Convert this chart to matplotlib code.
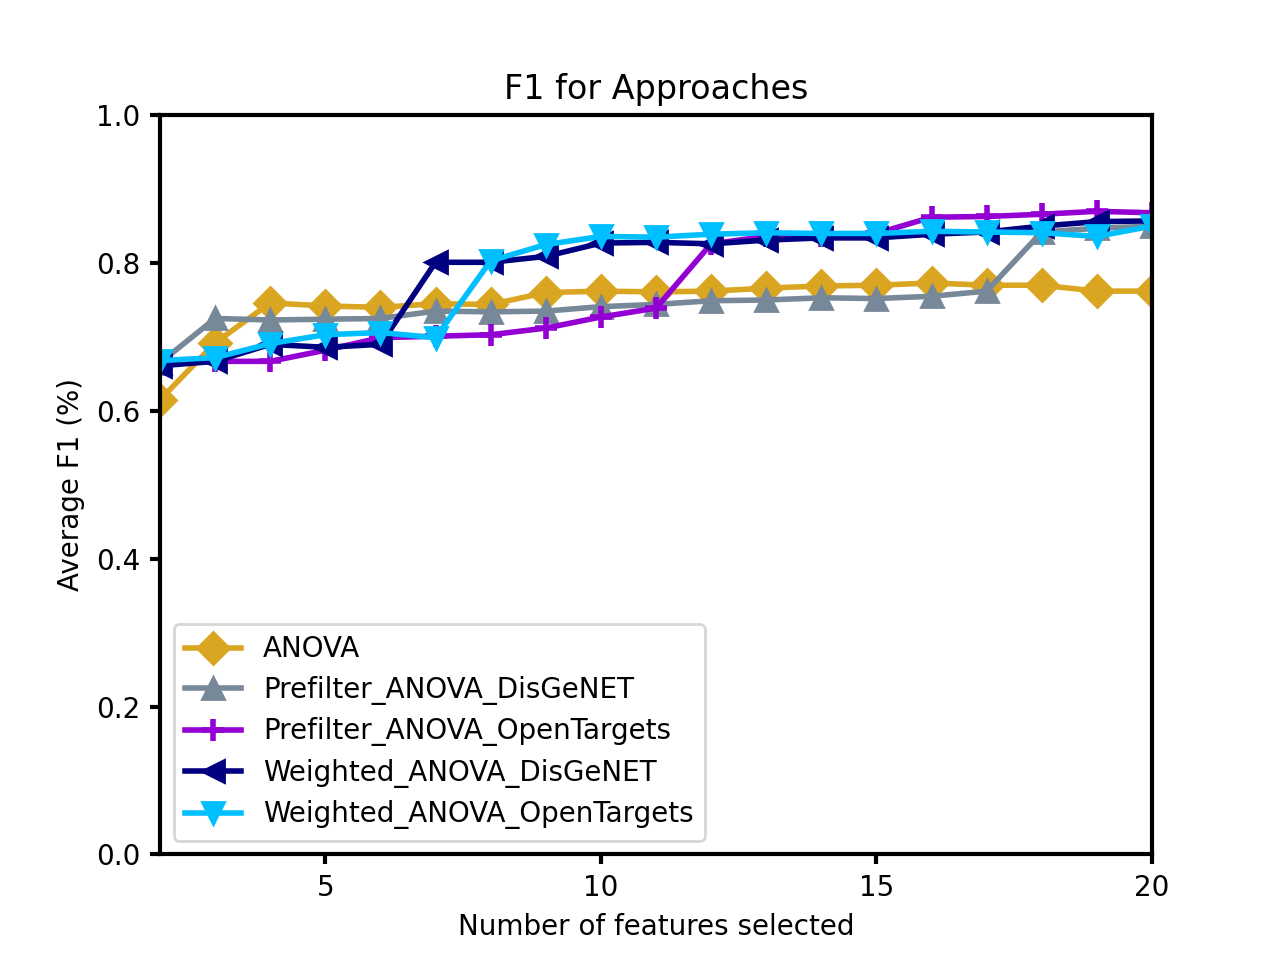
import matplotlib
matplotlib.use("Agg")
import matplotlib.pyplot as plt

# number of features selected
n_features = list(range(2, 21))

anova = [0.615, 0.692, 0.746, 0.742, 0.740, 0.745, 0.744, 0.760, 0.762, 0.761,
         0.762, 0.766, 0.769, 0.770, 0.773, 0.770, 0.770, 0.762, 0.762]
pre_disgenet = [0.665, 0.725, 0.723, 0.724, 0.725, 0.735, 0.734, 0.735, 0.741, 0.744,
                0.749, 0.750, 0.753, 0.752, 0.755, 0.762, 0.842, 0.847, 0.850]
pre_opentargets = [0.665, 0.667, 0.667, 0.682, 0.699, 0.701, 0.703, 0.712, 0.727, 0.739,
                   0.826, 0.836, 0.837, 0.840, 0.862, 0.863, 0.866, 0.870, 0.868]
w_disgenet = [0.661, 0.667, 0.690, 0.686, 0.690, 0.801, 0.801, 0.809, 0.827, 0.828,
              0.826, 0.831, 0.834, 0.834, 0.839, 0.842, 0.850, 0.856, 0.857]
w_opentargets = [0.668, 0.672, 0.691, 0.703, 0.706, 0.699, 0.803, 0.825, 0.836, 0.835,
                 0.839, 0.841, 0.840, 0.840, 0.843, 0.842, 0.841, 0.836, 0.850]

plt.rcParams['axes.linewidth'] = 1.5
plt.rcParams['xtick.major.width'] = 1.5
plt.rcParams['ytick.major.width'] = 1.5

fig, ax = plt.subplots(figsize=(6.4, 4.8), dpi=200)
ax.plot(n_features, anova, marker='D', color='goldenrod', lw=2, ms=8, label='ANOVA')
ax.plot(n_features, pre_disgenet, marker='^', color='lightslategray', lw=2, ms=8,
        label='Prefilter_ANOVA_DisGeNET')
ax.plot(n_features, pre_opentargets, marker='+', color='darkviolet', lw=2, ms=8, mew=2,
        label='Prefilter_ANOVA_OpenTargets')
ax.plot(n_features, w_disgenet, marker='<', color='navy', lw=2, ms=8,
        label='Weighted_ANOVA_DisGeNET')
ax.plot(n_features, w_opentargets, marker='v', color='deepskyblue', lw=2, ms=8,
        label='Weighted_ANOVA_OpenTargets')

ax.set_xlim(2, 20)
ax.set_ylim(0, 1)
ax.set_xticks([5, 10, 15, 20])
ax.set_title('F1 for Approaches')
ax.set_xlabel('Number of features selected')
ax.set_ylabel('Average F1 (%)')
ax.legend(loc='lower left', labelspacing=0.45)
fig.savefig('out.png')
